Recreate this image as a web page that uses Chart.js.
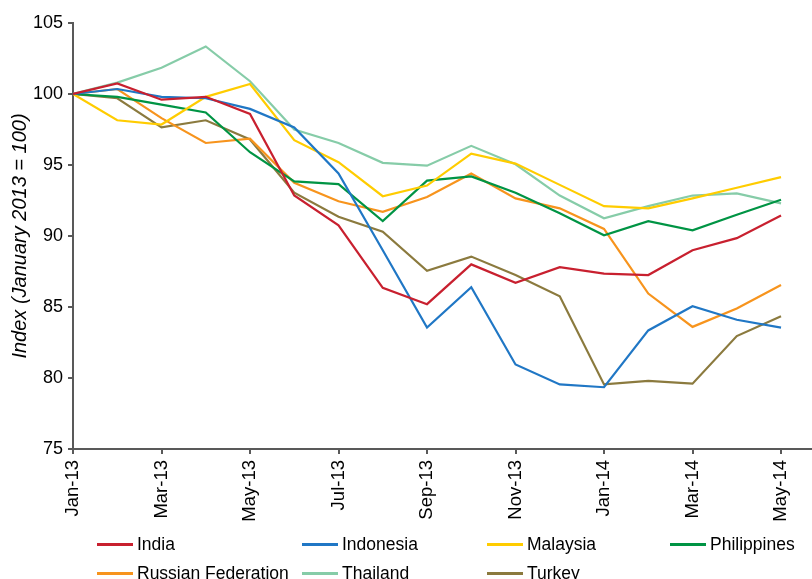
<!DOCTYPE html>
<html>
<head>
<meta charset="utf-8">
<script src="https://cdn.jsdelivr.net/npm/chart.js@4.4.1/dist/chart.umd.min.js"></script>
<style>
  html, body { margin: 0; padding: 0; background: #fff; }
  #wrap { position: relative; width: 812px; height: 579px; overflow: hidden; }
  #legend { position: absolute; left: 0; top: 0; width: 812px; height: 579px; pointer-events: none;
            font-family: "Liberation Sans", Arial, sans-serif; font-size: 17.5px; color: #000; }
  .item { position: absolute; height: 20px; line-height: 20px; white-space: nowrap; }
  .item span.ln { position: absolute; left: 0; top: 9px; width: 36px; height: 3px; }
  .item span.tx { position: absolute; left: 40px; top: 0; }
</style>
</head>
<body>
<div id="wrap">
  <canvas id="indexChart" width="812" height="579"></canvas>
  <div id="legend"></div>
</div>
<script>
// Months on the x axis (labels shown every second month)
const months = ['Jan-13', 'Feb-13', 'Mar-13', 'Apr-13', 'May-13', 'Jun-13', 'Jul-13', 'Aug-13', 'Sep-13',
  'Oct-13', 'Nov-13', 'Dec-13', 'Jan-14', 'Feb-14', 'Mar-14', 'Apr-14', 'May-14'];

// Index values, January 2013 = 100
const india       = [100, 100.75, 99.6, 99.8, 98.6, 92.85, 90.75, 86.35, 85.2, 88.0, 86.7, 87.8, 87.35, 87.25, 89.0, 89.85, 91.45];
const indonesia   = [100, 100.35, 99.8, 99.7, 98.95, 97.65, 94.4, 89.0, 83.55, 86.4, 80.95, 79.55, 79.35, 83.35, 85.05, 84.1, 83.55];
const malaysia    = [100, 98.15, 97.85, 99.8, 100.7, 96.75, 95.2, 92.8, 93.55, 95.8, 95.1, 93.6, 92.1, 91.95, 92.65, 93.4, 94.15];
const philippines = [100, 99.8, 99.25, 98.7, 95.9, 93.85, 93.65, 91.05, 93.9, 94.2, 93.05, 91.6, 90.05, 91.05, 90.4, 91.5, 92.55];
const russia      = [100, 100.35, 98.3, 96.55, 96.85, 93.75, 92.45, 91.7, 92.75, 94.4, 92.65, 91.95, 90.5, 85.95, 83.6, 84.9, 86.55];
const thailand    = [100, 100.8, 101.85, 103.35, 100.9, 97.5, 96.55, 95.15, 94.95, 96.35, 95.05, 92.85, 91.25, 92.1, 92.85, 93.0, 92.3];
const turkey      = [100, 99.7, 97.65, 98.15, 96.8, 93.05, 91.35, 90.3, 87.55, 88.55, 87.25, 85.75, 79.55, 79.8, 79.6, 82.95, 84.35];

// Y axis ticks
const yTicks = [75, 80, 85, 90, 95, 100, 105];

const series = [
  { label: 'India', data: india, color: '#C8202F' },
  { label: 'Indonesia', data: indonesia, color: '#2077C5' },
  { label: 'Malaysia', data: malaysia, color: '#FFCC00' },
  { label: 'Philippines', data: philippines, color: '#009444' },
  { label: 'Russian Federation', data: russia, color: '#F7941D' },
  { label: 'Thailand', data: thailand, color: '#86CCA8' },
  { label: 'Turkey', data: turkey, color: '#8B7A3E' }
];

const axisColor = '#595959';
const font = '"Liberation Sans", Arial, sans-serif';

const ctx = document.getElementById('indexChart').getContext('2d');
new Chart(ctx, {
  type: 'line',
  data: {
    datasets: series.map(s => ({
      label: s.label,
      data: s.data.map((v, i) => ({ x: i, y: v })),
      borderColor: s.color,
      backgroundColor: s.color,
      borderWidth: 2.2,
      pointRadius: 0,
      tension: 0,
      fill: false
    }))
  },
  options: {
    responsive: false,
    animation: false,
    layout: { padding: { top: 23, right: 0, bottom: 0, left: 0 } },
    plugins: {
      legend: { display: false },
      tooltip: { enabled: false }
    },
    scales: {
      x: {
        type: 'linear',
        min: 0,
        max: 16.7,
        afterBuildTicks: axis => {
          axis.ticks = months.map((m, i) => ({ value: i })).filter(t => t.value % 2 === 0);
        },
        afterFit: scale => { scale.height = 130; },
        ticks: {
          callback: v => months[v],
          minRotation: 90,
          maxRotation: 90,
          autoSkip: false,
          padding: 6,
          color: '#000',
          font: { family: font, size: 18.5 }
        },
        grid: { drawOnChartArea: false, drawTicks: true, tickLength: 5, color: axisColor, lineWidth: 2 },
        border: { color: axisColor, width: 2 }
      },
      y: {
        min: 75,
        max: 105,
        afterBuildTicks: axis => {
          axis.ticks = yTicks.map(v => ({ value: v }));
        },
        afterFit: scale => { scale.width = 73; },
        ticks: {
          padding: 5,
          color: '#000',
          font: { family: font, size: 18 }
        },
        grid: { drawOnChartArea: false, drawTicks: true, tickLength: 5, color: axisColor, lineWidth: 2 },
        border: { color: axisColor, width: 2 },
        title: {
          display: true,
          text: 'Index (January 2013 = 100)',
          color: '#000',
          padding: { top: 8, bottom: 0 },
          font: { family: font, size: 20, style: 'italic' }
        }
      }
    }
  }
});

// Legend in four columns under the chart
const colX = [97, 302, 487, 670];
const rowY = [534, 563];
const legend = document.getElementById('legend');
series.forEach((s, i) => {
  const item = document.createElement('div');
  item.className = 'item';
  item.style.left = colX[i % 4] + 'px';
  item.style.top = rowY[Math.floor(i / 4)] + 'px';
  item.innerHTML = '<span class="ln" style="background:' + s.color + '"></span><span class="tx"></span>';
  item.querySelector('.tx').textContent = s.label;
  legend.appendChild(item);
});
</script>
</body>
</html>
